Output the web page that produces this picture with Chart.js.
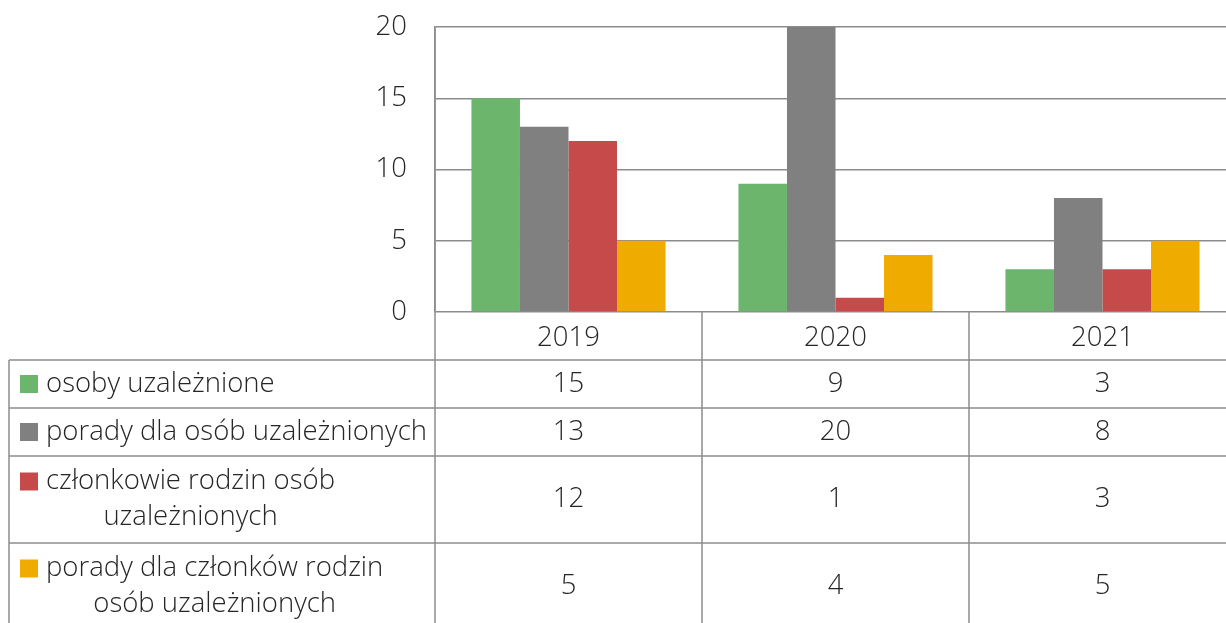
<!DOCTYPE html>
<html>
<head>
<meta charset="utf-8">
<script src="https://cdn.jsdelivr.net/npm/chart.js@4"></script>
<style>
  html, body { margin: 0; padding: 0; background: #fff; overflow: hidden; }
  #wrap { width: 1240px; height: 623px; position: relative; }
</style>
</head>
<body>
<div id="wrap"><canvas id="myChart"></canvas></div>
<script>
// dane z wykresu
const years = ['2019', '2020', '2021'];
const seriesNames = [
    ['osoby uzależnione'],
    ['porady dla osób uzależnionych'],
    ['członkowie rodzin osób', 'uzależnionych'],
    ['porady dla członków rodzin', 'osób uzależnionych']
];
const addictedData = [15, 9, 3];
const addictedAdviceData = [13, 20, 8];
const familyData = [12, 1, 3];
const familyAdviceData = [5, 4, 5];
const yTicks = [0, 5, 10, 15, 20];

const colors = ['#6bb56d', '#808080', '#c64a4a', '#f0ab00'];
const gridColor = '#8c8c8c';
const textColor = '#262626';
const fontFamily = '"Open Sans", "Noto Sans", sans-serif';
const fontSize = 27.5;

// wiersze tabeli pod wykresem
const rowTops = [312, 360, 408, 456, 543, 630];

const tablePlugin = {
    id: 'dataTable',
    afterDraw(chart) {
        const ctx = chart.ctx;
        const x = chart.scales.x;
        const area = chart.chartArea;
        const left = 9;
        const right = area.right;
        const step = x.getPixelForValue(1) - x.getPixelForValue(0);
        ctx.save();
        ctx.strokeStyle = gridColor;
        ctx.lineWidth = 1.5;
        // linie poziome
        for (let i = 1; i < rowTops.length - 1; i++) {
            ctx.beginPath();
            ctx.moveTo(left, rowTops[i]);
            ctx.lineTo(right, rowTops[i]);
            ctx.stroke();
        }
        // linie pionowe
        ctx.beginPath();
        ctx.moveTo(left, rowTops[1]);
        ctx.lineTo(left, 623);
        ctx.stroke();
        for (let i = 0; i <= years.length; i++) {
            const px = Math.round(x.getPixelForValue(i) - step / 2);
            ctx.beginPath();
            ctx.moveTo(px, i === 0 ? area.top : area.bottom);
            ctx.lineTo(px, 623);
            ctx.stroke();
        }
        ctx.fillStyle = textColor;
        ctx.font = '300 ' + fontSize + 'px ' + fontFamily;
        ctx.textBaseline = 'middle';
        ctx.textAlign = 'center';
        years.forEach((y, i) => {
            ctx.fillText(y, x.getPixelForValue(i), (rowTops[0] + rowTops[1]) / 2 + 2);
        });
        chart.data.datasets.forEach((ds, r) => {
            const top = rowTops[r + 1];
            const bottom = rowTops[r + 2];
            const mid = (top + bottom) / 2;
            const lines = seriesNames[r];
            const lineH = 36;
            const firstY = mid - (lines.length - 1) * lineH / 2;
            // kwadrat legendy
            ctx.fillStyle = colors[r];
            ctx.fillRect(20, firstY - 9, 18, 18);
            ctx.fillStyle = textColor;
            ctx.textAlign = 'left';
            ctx.fillText(lines[0], 46, firstY);
            const w1 = ctx.measureText(lines[0]).width;
            ctx.textAlign = 'center';
            for (let k = 1; k < lines.length; k++) {
                ctx.fillText(lines[k], 46 + w1 / 2, firstY + k * lineH);
            }
            ds.data.forEach((v, i) => {
                ctx.fillText(String(v), x.getPixelForValue(i), mid);
            });
        });
        ctx.restore();
    }
};

const ctx = document.getElementById('myChart').getContext('2d');
const myChart = new Chart(ctx, {
    type: 'bar',
    data: {
        labels: years,
        datasets: [
            { label: seriesNames[0].join(' '), data: addictedData, backgroundColor: colors[0] },
            { label: seriesNames[1].join(' '), data: addictedAdviceData, backgroundColor: colors[1] },
            { label: seriesNames[2].join(' '), data: familyData, backgroundColor: colors[2] },
            { label: seriesNames[3].join(' '), data: familyAdviceData, backgroundColor: colors[3] }
        ]
    },
    options: {
        responsive: true,
        maintainAspectRatio: false,
        animation: false,
        devicePixelRatio: 1,
        layout: { padding: { top: 27, bottom: 311, left: 0, right: 4 } },
        datasets: { bar: { categoryPercentage: 0.727, barPercentage: 1 } },
        plugins: { legend: { display: false }, tooltip: { enabled: false } },
        scales: {
            x: { display: false },
            y: {
                min: 0,
                max: 20,
                afterBuildTicks(scale) { scale.ticks = yTicks.map(v => ({ value: v })); },
                afterFit(scale) {
                    scale.width = 435;
                    scale.paddingTop = 0;
                    scale.paddingBottom = 0;
                },
                border: { display: true, color: gridColor, width: 1.5 },
                grid: { color: gridColor, lineWidth: 1.5, drawTicks: false },
                ticks: {
                    padding: 28,
                    color: textColor,
                    font: { family: fontFamily, size: fontSize, weight: 300 }
                }
            }
        }
    },
    plugins: [tablePlugin]
});
</script>
</body>
</html>
